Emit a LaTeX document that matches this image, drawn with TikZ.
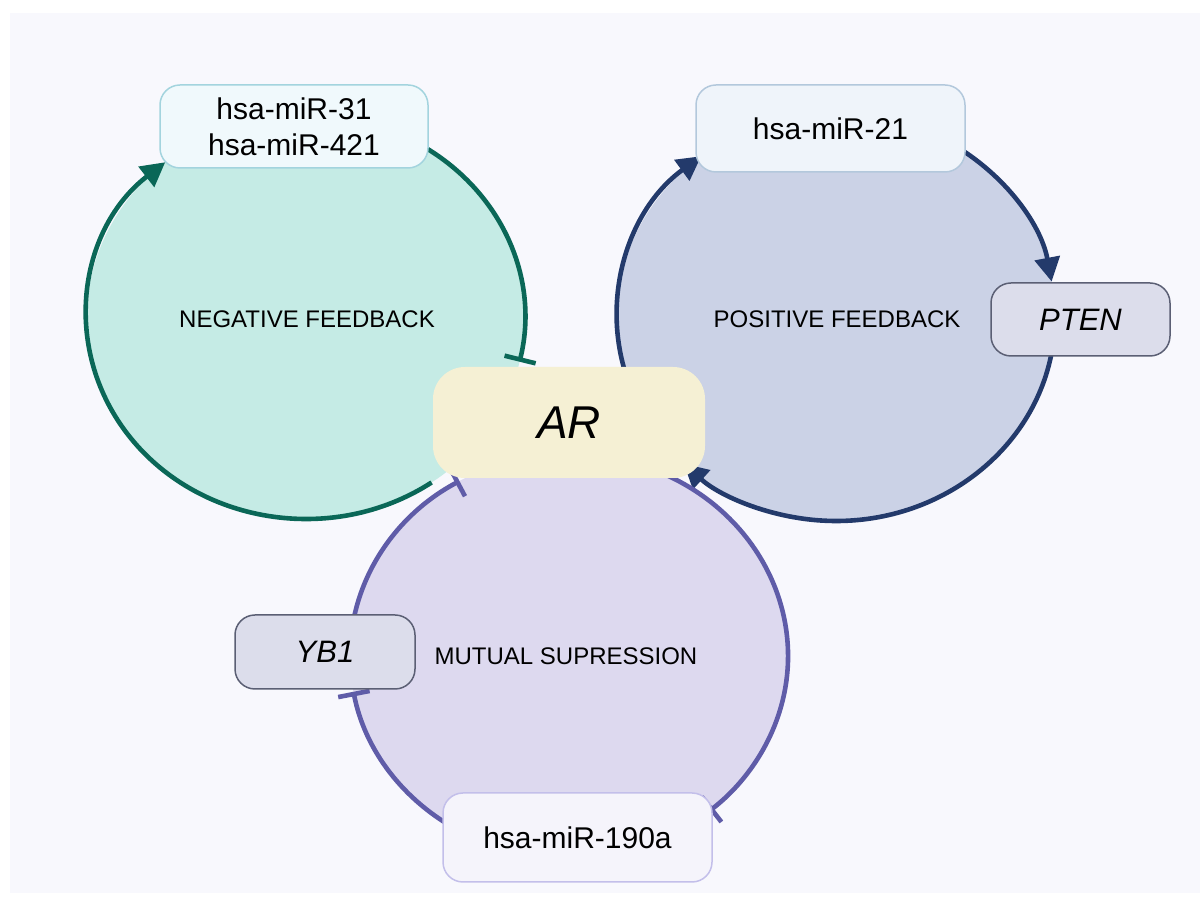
\documentclass[tikz,border=0pt]{standalone}
\usepackage{fontspec}
\setmainfont{Liberation Sans}
\usetikzlibrary{arrows.meta,calc}
\definecolor{bgc}{HTML}{F8F8FD}
\definecolor{gfill}{HTML}{C5EBE5}
\definecolor{gline}{HTML}{0A6757}
\definecolor{nfill}{HTML}{CBD2E6}
\definecolor{nline}{HTML}{233A6B}
\definecolor{pfill}{HTML}{DDD9EF}
\definecolor{pline}{HTML}{5F5CA8}
\definecolor{arfill}{HTML}{F5F0D4}
\definecolor{mAfill}{HTML}{F0F9FC}
\definecolor{mAline}{HTML}{A3D4DE}
\definecolor{mBfill}{HTML}{EFF4FA}
\definecolor{mBline}{HTML}{B3C8DC}
\definecolor{genefill}{HTML}{DCDDEB}
\definecolor{geneline}{HTML}{5B5F74}
\definecolor{mCfill}{HTML}{F5F4FB}
\definecolor{mCline}{HTML}{C3BFEA}
\begin{document}
\begin{tikzpicture}[x=1pt,y=1pt,
  loopline/.style={line width=4.6pt},
  arr/.style={-{Triangle[length=24pt,width=25pt]}},
  teeend/.style={-{Bar[width=32pt,line width=4.6pt]}},
  mirbox/.style={rounded corners=20pt, line width=1.5pt, align=center, inner sep=0pt,
    font=\fontsize{30}{36}\selectfont},
  genebox/.style={rounded corners=20pt, line width=1.5pt, draw=geneline, fill=genefill, inner sep=0pt,
    font=\fontsize{31}{36}\selectfont\itshape},
  looplabel/.style={font=\fontsize{24}{28}\selectfont}
]
\useasboundingbox (0,0) rectangle (1200,899);
\fill[white] (0,0) rectangle (1200,899);
\fill[bgc] (10,6) rectangle (1200,886);

% loop centres
\coordinate (cG) at (306,582);
\coordinate (cN) at (836,582);
\coordinate (cP) at (569,243);

% loop fills
\fill[gfill] (cG) ellipse [x radius=219pt, y radius=202pt];
\fill[nfill] (cN) ellipse [x radius=219pt, y radius=204pt];
\fill[pfill] (cP) ellipse [x radius=219pt, y radius=202pt];

% loop labels
\node[looplabel] (lg) at (307,580) {NEGATIVE FEEDBACK};
\node[looplabel] (ln) at (837,580) {POSITIVE FEEDBACK};
\node[looplabel] (lp) at (566,243) {MUTUAL SUPRESSION};

% negative feedback
\draw[loopline, gline, arr] ([shift={(-55:219pt and 202pt)}]cG)
  arc[start angle=-55, end angle=-230, x radius=219pt, y radius=202pt];
\draw[loopline, gline, teeend] ([shift={(60:219pt and 202pt)}]cG)
  arc[start angle=60, end angle=-12.8, x radius=219pt, y radius=202pt];

% positive feedback
\draw[loopline, nline, arr] ([shift={(200:219pt and 204pt)}]cN)
  arc[start angle=200, end angle=128, x radius=219pt, y radius=204pt];
\draw[loopline, nline, arr] ([shift={(60:219pt and 204pt)}]cN)
  arc[start angle=60, end angle=10, x radius=219pt, y radius=204pt];
\draw[loopline, nline, arr] ([shift={(-5:219pt and 204pt)}]cN)
  arc[start angle=-5, end angle=-134, x radius=219pt, y radius=204pt];

% mutual suppression
\draw[loopline, pline, teeend] ([shift={(70:219pt and 202pt)}]cP)
  arc[start angle=70, end angle=-50, x radius=219pt, y radius=202pt];
\draw[loopline, pline, teeend] ([shift={(-120:219pt and 202pt)}]cP)
  arc[start angle=-120, end angle=-169.8, x radius=219pt, y radius=202pt];
\draw[loopline, pline, teeend] ([shift={(175:219pt and 202pt)}]cP)
  arc[start angle=175, end angle=120, x radius=219pt, y radius=202pt];

% boxes
\node[fill=arfill, rounded corners=32pt, minimum width=272pt, minimum height=111pt, inner sep=0pt,
  font=\fontsize{46}{50}\selectfont\itshape] (ar) at (569,476.5) {AR};
\node[mirbox, draw=mAline, fill=mAfill, minimum width=268pt, minimum height=83pt] (m31) at (294,772.5)
  {hsa-miR-31\\hsa-miR-421};
\node[mirbox, draw=mBline, fill=mBfill, minimum width=269pt, minimum height=87pt] (m21) at (830.5,770.5)
  {hsa-miR-21};
\node[genebox, minimum width=179pt, minimum height=73pt] (pten) at (1080.5,579.5) {PTEN};
\node[genebox, minimum width=180pt, minimum height=74pt] (yb1) at (325,247) {YB1};
\node[mirbox, draw=mCline, fill=mCfill, minimum width=269pt, minimum height=89pt] (m190) at (577.5,61.5)
  {hsa-miR-190a};
\end{tikzpicture}
\end{document}
